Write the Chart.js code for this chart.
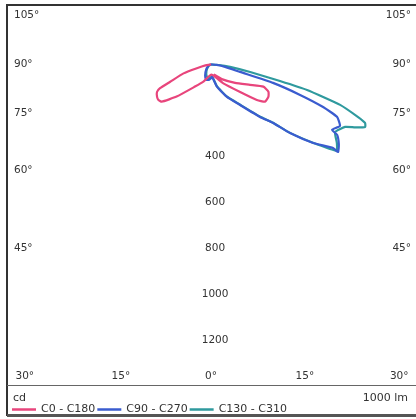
<!DOCTYPE html>
<html>
<head>
<meta charset="utf-8">
<script src="https://cdn.jsdelivr.net/npm/chart.js@4.4.0/dist/chart.umd.min.js"></script>
<style>
  html, body { margin: 0; padding: 0; background: #fff; }
  #wrap { width: 416px; height: 419px; }
</style>
</head>
<body>
<div id="wrap"><canvas id="c" width="416" height="419"></canvas></div>
<script>
// Luminous intensity curves, traced as polar paths.
// gamma: degrees from nadir (negative = C180/C270/C310 half-plane, drawn to the left); values in cd.
const c0Gamma = [-90, -80, -75, -72, -67, -65, -63, -59, -56, -53, -47, -36, -24, -17, -8, 5, 20, 33, 46.5, 52.2, 55.4, 60.7, 64.6, 67, 62.3, 52.4, 36, 25, 15];
const c0Cd    = [0, 25, 64, 126, 193, 245, 264, 274, 276, 269, 205, 119, 82, 63, 50, 45, 60, 98, 174, 252, 285, 286, 276, 247, 191, 132, 79, 55, 45];

const c90Gamma = [-90, -70, -45, -28, -18, -8, 0, 5, 15, 26, 35.6, 43, 46.7, 49, 52.4, 55.6, 55.4, 58, 60.8, 61.6, 64.5, 67.4, 69.2, 71.1, 73.4, 75.5, 80, 85, 90];
const c90Cd    = [0, 10, 30, 55, 70, 68, 60, 54, 101, 157, 217, 312, 371, 455, 560, 643, 671, 655, 628, 598, 621, 593, 521, 409, 281, 130, 62, 25, 0];

const c130Gamma = [-90, -60, -35, -20, -8, 0, 5, 15, 26, 35.6, 43, 46.7, 49, 52.4, 55.5, 58, 61.4, 65, 66.4, 67.9, 69.2, 70.3, 72.6, 75.1, 76.5, 79, 82.5, 86, 90];
const c130Cd    = [0, 12, 35, 55, 60, 55, 52, 98, 155, 214, 308, 368, 452, 556, 662, 645, 614, 643, 684, 723, 716, 679, 588, 432, 308, 173, 83, 35, 0];

const seriesNames = ['C0 - C180', 'C90 - C270', 'C130 - C310'];
const seriesColors = ['#e8457c', '#3a5ccf', '#2f9a9e'];

// Angle captions around the frame and intensity captions down the nadir line
const sideAngles = [105, 90, 75, 60, 45];
const bottomAngles = [-30, -15, 0, 15, 30];
const radialTicks = [400, 600, 800, 1000, 1200];
const unitLabel = 'cd';
const fluxLabel = '1000 lm';

// Horizontal reach (cd) of the side captions and the bottom caption offsets (cd)
const SIDE_REACH = 800;
const BOTTOM_REACH = [-810, -392, 0, 408, 818];

function toXY(gammas, values) {
  return gammas.map((g, i) => {
    const a = g * Math.PI / 180;
    return { x: values[i] * Math.sin(a), y: -values[i] * Math.cos(a) };
  });
}

const FONT = '10.5px "DejaVu Sans", sans-serif';
const LEGEND_FONT = '11px "DejaVu Sans", sans-serif';
const TEXT = '#333333';

const framePlugin = {
  id: 'diagramFrame',
  afterDraw(chart) {
    const ctx = chart.ctx;
    const xs = chart.scales.x, ys = chart.scales.y;
    const ox = xs.getPixelForValue(0);
    const area = chart.chartArea;
    ctx.save();
    ctx.font = FONT;
    ctx.fillStyle = TEXT;
    ctx.textBaseline = 'middle';

    // side angle captions
    sideAngles.forEach(g => {
      const t = Math.tan(g * Math.PI / 180);
      const yv = Math.abs(t) > 1e6 ? 0 : -SIDE_REACH / t;
      const py = ys.getPixelForValue(yv);
      const txt = g + '°';
      ctx.textAlign = 'left';
      ctx.fillText(txt, area.left + 6, py);
      ctx.textAlign = 'right';
      ctx.fillText(txt, area.right - 5, py);
    });

    // bottom angle captions
    ctx.textAlign = 'center';
    bottomAngles.forEach((g, i) => {
      const px = xs.getPixelForValue(BOTTOM_REACH[i]);
      ctx.fillText(Math.abs(g) + '°', px, area.bottom - 10);
    });

    // intensity captions along the nadir
    radialTicks.forEach(v => {
      ctx.fillText(String(v), ox + 4, ys.getPixelForValue(-v));
    });

    // frame
    ctx.strokeStyle = '#333';
    ctx.lineWidth = 2;
    ctx.beginPath();
    ctx.moveTo(area.right, 5);
    ctx.lineTo(7, 5);
    ctx.lineTo(7, 416);
    ctx.stroke();
    ctx.strokeStyle = '#666';
    ctx.lineWidth = 1;
    ctx.beginPath();
    ctx.moveTo(7, area.bottom - 0.5);
    ctx.lineTo(area.right, area.bottom - 0.5);
    ctx.stroke();
    ctx.strokeStyle = '#555';
    ctx.lineWidth = 3;
    ctx.beginPath();
    ctx.moveTo(7, 415.5);
    ctx.lineTo(area.right, 415.5);
    ctx.stroke();

    // legend row
    ctx.font = LEGEND_FONT;
    ctx.fillStyle = TEXT;
    ctx.textAlign = 'left';
    ctx.fillText(unitLabel, 13, 398);
    ctx.textAlign = 'right';
    ctx.fillText(fluxLabel, 408, 398);
    let x = 12;
    const ly = 409.5;
    chart.data.datasets.forEach(ds => {
      ctx.strokeStyle = ds.borderColor;
      ctx.lineWidth = 2.5;
      ctx.beginPath();
      ctx.moveTo(x, ly);
      ctx.lineTo(x + 24, ly);
      ctx.stroke();
      x += 29;
      ctx.textAlign = 'left';
      ctx.fillStyle = TEXT;
      ctx.fillText(ds.label, x, ly);
      x += ctx.measureText(ds.label).width + 2;
    });
    ctx.restore();
  }
};

new Chart(document.getElementById('c'), {
  type: 'scatter',
  data: {
    datasets: [
      { label: seriesNames[0], data: toXY(c0Gamma, c0Cd), borderColor: seriesColors[0] },
      { label: seriesNames[1], data: toXY(c90Gamma, c90Cd), borderColor: seriesColors[1] },
      { label: seriesNames[2], data: toXY(c130Gamma, c130Cd), borderColor: seriesColors[2] }
    ].map(d => Object.assign(d, {
      showLine: true, pointRadius: 0, borderWidth: 2.2, tension: 0.15, fill: false
    }))
  },
  options: {
    responsive: false,
    animation: false,
    devicePixelRatio: 1,
    layout: { padding: { left: 8, top: 6, right: 0, bottom: 33 } },
    scales: {
      x: { type: 'linear', min: -883, max: 891, display: false },
      y: { type: 'linear', min: -1398, max: 254, display: false }
    },
    plugins: { legend: { display: false }, tooltip: { enabled: false } }
  },
  plugins: [framePlugin]
});
</script>
</body>
</html>
